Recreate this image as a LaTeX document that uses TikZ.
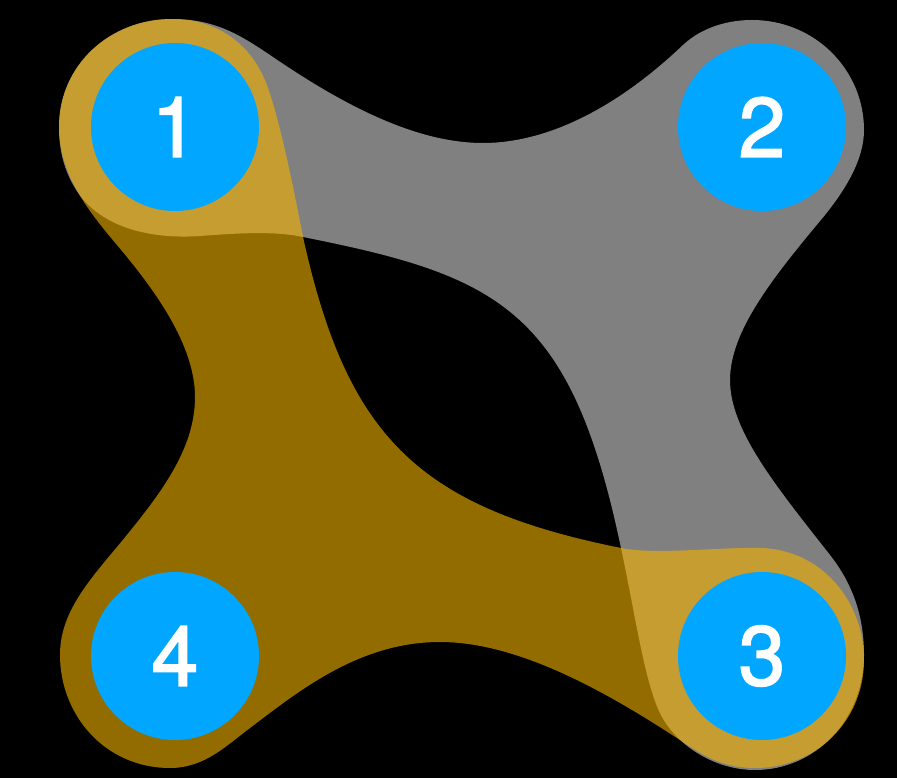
\documentclass[tikz,border=0pt]{standalone}
\usepackage{fontspec}
\setmainfont{TeX Gyre Heros}
\newfontfamily\labelfont[FakeBold=2]{TeX Gyre Heros}
\definecolor{vertexblue}{RGB}{0,166,255}
\definecolor{edgegold}{RGB}{241,177,0}
\tikzset{
  vertex/.style={circle, fill=vertexblue, minimum size=168pt, inner sep=0pt,
    text=white, font=\labelfont\fontsize{84}{84}\selectfont},
  greyedge/.style={fill=white, fill opacity=0.5},
  goldedge/.style={fill=edgegold, fill opacity=0.61},
}
\begin{document}
\begin{tikzpicture}[x=1pt, y=-1pt]
  \useasboundingbox (0,0) rectangle (897,778);
  \fill[black] (0,0) rectangle (897,778);

  % hyperedge {1,2,3}: caps round vertices 1, 2, 3, concave outer sides
  \path[greyedge]
    (59,127) .. controls (59,65) and (110,19) .. (172,19)
    .. controls (215,19) and (240,35) .. (270,55)
    .. controls (350,110) and (420,143) .. (483,143)
    .. controls (550,143) and (620,105) .. (683,45)
    .. controls (700,29) and (725,20) .. (752,20)
    .. controls (815,20) and (864,70) .. (864,130)
    .. controls (864,160) and (845,190) .. (825,215)
    .. controls (775,275) and (730,330) .. (730,380)
    .. controls (730,430) and (775,485) .. (830,555)
    .. controls (852,583) and (864,615) .. (864,655)
    .. controls (864,720) and (815,770) .. (755,770)
    .. controls (715,770) and (678,746) .. (662,717)
    .. controls (645,686) and (636,618) .. (621,548)
    .. controls (571,309) and (499,276) .. (303,237)
    .. controls (275,231) and (240,233) .. (200,236)
    .. controls (140,240) and (95,222) .. (75,188)
    .. controls (64,170) and (59,150) .. (59,127) -- cycle;

  % hyperedge {1,3,4}: caps round vertices 1, 3, 4, concave outer sides
  \path[goldedge]
    (59,127) .. controls (59,65) and (110,19) .. (172,19)
    .. controls (215,19) and (252,42) .. (268,88)
    .. controls (280,122) and (293,185) .. (303,237)
    .. controls (347,436) and (417,507) .. (621,548)
    .. controls (655,555) and (720,547) .. (760,548)
    .. controls (820,549) and (864,600) .. (864,660)
    .. controls (864,722) and (815,768) .. (755,768)
    .. controls (725,768) and (705,757) .. (683,742)
    .. controls (610,694) and (520,642) .. (440,642)
    .. controls (360,642) and (300,690) .. (250,728)
    .. controls (227,745) and (205,768) .. (170,768)
    .. controls (105,768) and (60,715) .. (60,655)
    .. controls (60,615) and (85,585) .. (117,547)
    .. controls (160,495) and (195,450) .. (195,397)
    .. controls (195,345) and (155,290) .. (117,245)
    .. controls (90,213) and (59,175) .. (59,127) -- cycle;

  \node[vertex] (n1) at (175,127) {1};
  \node[vertex] (n2) at (762,127) {2};
  \node[vertex] (n3) at (762,656) {3};
  \node[vertex] (n4) at (175,656) {4};
\end{tikzpicture}
\end{document}
